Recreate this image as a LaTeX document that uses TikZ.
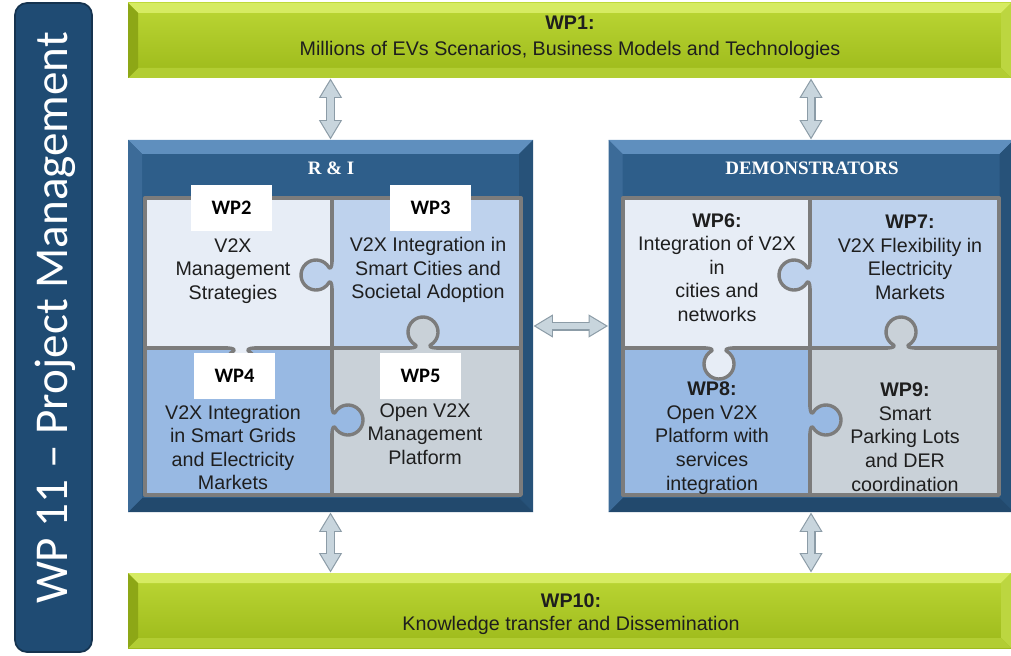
\documentclass[tikz,border=0pt]{standalone}
\usepackage{fontspec}
\setmainfont{Liberation Sans}
\newfontfamily\calibfont{Carlito}
\newfontfamily\titlefont{Liberation Serif}
\usetikzlibrary{arrows.meta}

\definecolor{pmblue}{HTML}{1F4B73}
\definecolor{pmedge}{HTML}{15334F}
\definecolor{greentop}{HTML}{BCD735}
\definecolor{greenbot}{HTML}{9CB91A}
\definecolor{greenhi}{HTML}{D6EB62}
\definecolor{greenlo}{HTML}{8DA716}
\definecolor{greenrt}{HTML}{BCD640}
\definecolor{greenbt}{HTML}{B2CD33}
\definecolor{boxblue}{HTML}{2E5E8A}
\definecolor{bluehi}{HTML}{5F8FBE}
\definecolor{bluelf}{HTML}{3C6B98}
\definecolor{bluert}{HTML}{275279}
\definecolor{bluebt}{HTML}{22496D}
\definecolor{cellA}{HTML}{E7EDF6}
\definecolor{cellB}{HTML}{BED2ED}
\definecolor{cellC}{HTML}{98B9E3}
\definecolor{cellD}{HTML}{C9D1D8}
\definecolor{puzzlegray}{HTML}{7C7C7C}
\definecolor{arrowfill}{HTML}{C8D5DD}
\definecolor{arrowline}{HTML}{8C9CA7}
\definecolor{txt}{HTML}{1E1E1E}

\newcommand{\pxu}{0.025cm}

% knob of a puzzle piece: position, rotation, colour
\newcommand{\knob}[3]{%
  \begin{scope}[shift={#1}, rotate=#2]
    \fill[#3] (-13,-3) -- (-13,0) .. controls (-8.5,0) and (-5.3,1.75) .. (-7.5,3)
      arc[start angle=240, end angle=-60, radius=15]
      .. controls (5.3,1.75) and (8.5,0) .. (13,0) -- (13,-3) -- cycle;
    \draw[puzzle] (-13,0) .. controls (-8.5,0) and (-5.3,1.75) .. (-7.5,3)
      arc[start angle=240, end angle=-60, radius=15]
      .. controls (5.3,1.75) and (8.5,0) .. (13,0);
  \end{scope}}

\begin{document}
\begin{tikzpicture}[x=\pxu, y=-\pxu,
    bevel/.style n args={5}{path picture={
      \coordinate (bnw) at (path picture bounding box.north west);
      \coordinate (bne) at (path picture bounding box.north east);
      \coordinate (bse) at (path picture bounding box.south east);
      \coordinate (bsw) at (path picture bounding box.south west);
      \fill[#2] (bnw) -- (bne) -- ([shift={(-#1,#1)}]bne) -- ([shift={(#1,#1)}]bnw) -- cycle;
      \fill[#3] (bne) -- (bse) -- ([shift={(-#1,-#1)}]bse) -- ([shift={(-#1,#1)}]bne) -- cycle;
      \fill[#4] (bse) -- (bsw) -- ([shift={(#1,-#1)}]bsw) -- ([shift={(-#1,-#1)}]bse) -- cycle;
      \fill[#5] (bsw) -- (bnw) -- ([shift={(#1,#1)}]bnw) -- ([shift={(#1,-#1)}]bsw) -- cycle;
    }},
    greenbar/.style={minimum width=883*\pxu, minimum height=75*\pxu, inner sep=0pt,
      top color=greentop, bottom color=greenbot,
      bevel={10}{greenhi}{greenrt}{greenbt}{greenlo}},
    bluebox/.style={minimum width=405*\pxu, minimum height=372*\pxu, inner sep=0pt,
      fill=boxblue, bevel={14}{bluehi}{bluert}{bluebt}{bluelf}},
    pmbar/.style={draw=pmedge, line width=1.2pt, fill=pmblue, rounded corners=0.3cm,
      minimum width=77*\pxu, minimum height=649*\pxu, inner sep=0pt},
    puzzle/.style={draw=puzzlegray, line width=2.4pt, line cap=round, line join=round},
    celltext/.style={font=\fontsize{14}{16.8}\selectfont, text=txt, align=center, inner sep=0pt},
    bartext/.style={font=\fontsize{14}{18.5}\selectfont, text=txt, align=center, inner sep=0pt},
    boxtitle/.style={font=\titlefont\bfseries\fontsize{13.5}{16}\selectfont, text=white},
    wplabel/.style={fill=white, minimum width=81*\pxu, minimum height=46*\pxu, inner sep=0pt,
      font=\calibfont\bfseries\fontsize{14.6}{17}\selectfont},
    fatarrow/.style={draw=arrowfill, line width=4.8pt, shorten >=1.65pt, shorten <=1.65pt,
      {Triangle[length=11.5pt,width=12.8pt]}-{Triangle[length=11.5pt,width=12.8pt]},
      preaction={draw=arrowline, line width=6.4pt, shorten >=0pt, shorten <=0pt,
        {Triangle[length=14pt,width=15.5pt]}-{Triangle[length=14pt,width=15.5pt]}}}
  ]
  \useasboundingbox (0,0) rectangle (1011,656);

  % project management bar
  \node[pmbar] (wp11) at (53.5,327.5) {};
  \node[rotate=90, text=white, font=\calibfont\fontsize{33.5}{36}\selectfont] (wp11txt)
    at (55,318) {WP 11 – Project Management};

  % green bars
  \node[greenbar] (wp1) at (569.5,40.5) {};
  \node[bartext] (wp1txt) at (570,38)
    {\textbf{WP1:}\\Millions of EVs Scenarios, Business Models and Technologies};
  \node[greenbar] (wp10) at (569.5,610.5) {};
  \node[bartext, font=\fontsize{14}{16.4}\selectfont] (wp10txt) at (571,614)
    {\textbf{WP10:}\\Knowledge transfer and Dissemination};

  % blue boxes
  \node[bluebox] (ri) at (330.5,326) {};
  \node[bluebox] (demo) at (811,326) {};
  \node[boxtitle] (rititle) at (331,168) {R \& I};
  \node[boxtitle] (demotitle) at (812,168) {DEMONSTRATORS};

  % puzzles
  \foreach \ox in {145,623}{
    \fill[cellA] (\ox,198) rectangle (\ox+187,348);
    \fill[cellB] (\ox+187,198) rectangle (\ox+376,348);
    \fill[cellC] (\ox,348) rectangle (\ox+187,495);
    \fill[cellD] (\ox+187,348) rectangle (\ox+376,495);
    \draw[puzzle] (\ox,198) rectangle (\ox+376,495);
    \draw[puzzle] (\ox+187,198) -- (\ox+187,495);
    \draw[puzzle] (\ox,348) -- (\ox+376,348);
    \knob{(\ox+187,275)}{-90}{cellB}
    \knob{(\ox+278,348)}{180}{cellD}
    \knob{(\ox+96,348)}{0}{cellA}
    \knob{(\ox+187,420)}{90}{cellC}
  }

  % R & I texts
  \node[celltext] (wp2txt) at (233,271) {V2X\\Management\\Strategies};
  \node[celltext] (wp3txt) at (428,270) {V2X Integration in\\Smart Cities and\\Societal Adoption};
  \node[celltext] (wp4txt) at (233,447.5) {V2X Integration\\in Smart Grids\\and Electricity\\Markets};
  \node[celltext] (wp5txt) at (425,434) {Open V2X\\Management\\Platform};
  \node[wplabel] (wp2) at (231.5,208) {WP2};
  \node[wplabel] (wp3) at (430.5,208) {WP3};
  \node[wplabel] (wp4) at (234.5,375.5) {WP4};
  \node[wplabel] (wp5) at (420.5,375.5) {WP5};

  % demonstrator texts
  \node[celltext] (wp6txt) at (717,267.5)
    {\textbf{WP6:}\\Integration of V2X\\in\\cities and\\networks};
  \node[celltext] (wp7txt) at (910,257.5)
    {\textbf{WP7:}\\V2X Flexibility in\\Electricity\\Markets};
  \node[celltext] (wp8txt) at (712,438)
    {\textbf{WP8:}\\Open V2X\\Platform with\\services\\integration};
  \node[celltext] (wp9txt) at (905,437)
    {\textbf{WP9:}\\Smart\\Parking Lots\\and DER\\coordination};

  % arrows
  \draw[fatarrow] (wp1.south -| ri.north) -- (ri.north);
  \draw[fatarrow] (wp1.south -| demo.north) -- (demo.north);
  \draw[fatarrow] (ri.south) -- (ri.south |- wp10.north);
  \draw[fatarrow] (demo.south) -- (demo.south |- wp10.north);
  \draw[fatarrow] (ri.east) -- (demo.west);
\end{tikzpicture}
\end{document}
